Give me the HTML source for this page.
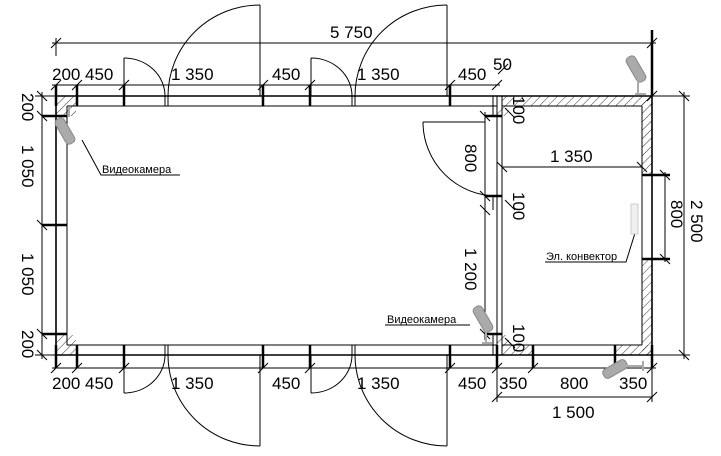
<!DOCTYPE html>
<html><head><meta charset="utf-8"><style>
html,body{margin:0;padding:0;background:#fff;}
svg{display:block;}
text{font-family:"Liberation Sans","DejaVu Sans",sans-serif;fill:#000;}
.d{font-size:17px;}
.l{font-size:11px;}
</style></head><body>
<svg width="721" height="456" viewBox="0 0 721 456" xmlns="http://www.w3.org/2000/svg">
<defs>
<pattern id="h" width="6" height="6" patternUnits="userSpaceOnUse" patternTransform="rotate(45)">
<line x1="0" y1="0" x2="0" y2="6" stroke="#000" stroke-width="0.8"/>
</pattern>
</defs>
<g stroke="#000" fill="none" stroke-width="1">
<!-- hatched areas -->
<rect x="56" y="96" width="20" height="20" fill="url(#h)" stroke="none"/>
<rect x="56" y="335" width="20" height="20" fill="url(#h)" stroke="none"/>
<rect x="502" y="96" width="150" height="10" fill="url(#h)" stroke="none"/>
<rect x="642" y="96" width="10" height="79" fill="url(#h)" stroke="none"/>
<rect x="642" y="259" width="10" height="96" fill="url(#h)" stroke="none"/>
<rect x="502" y="345" width="31" height="10" fill="url(#h)" stroke="none"/>
<rect x="615" y="345" width="37" height="10" fill="url(#h)" stroke="none"/>
<rect x="497" y="106" width="12" height="10" fill="url(#h)" stroke="none"/>
<rect x="497" y="335" width="12" height="10" fill="url(#h)" stroke="none"/>
<!-- walls -->
<line x1="56" y1="96" x2="652" y2="96" stroke-width="1.6"/>
<line x1="67" y1="106" x2="497" y2="106"/>
<line x1="502" y1="106" x2="642" y2="106"/>
<line x1="56" y1="355" x2="652" y2="355" stroke-width="1.6"/>
<line x1="67" y1="345" x2="497" y2="345"/>
<line x1="502" y1="345" x2="642" y2="345"/>
<line x1="56" y1="96" x2="56" y2="355" stroke-width="1.6"/>
<line x1="67" y1="106" x2="67" y2="345"/>
<line x1="652" y1="96" x2="652" y2="355" stroke-width="1.6"/>
<line x1="642" y1="106" x2="642" y2="345"/>
<line x1="497" y1="96" x2="497" y2="355"/>
<line x1="502" y1="96" x2="502" y2="355"/>
<line x1="493" y1="96" x2="493" y2="116"/>
<line x1="493" y1="196" x2="493" y2="210"/>
<line x1="493" y1="335" x2="493" y2="355"/>
<!-- wall ticks -->
<g stroke-width="2.5">
<line x1="56" y1="85" x2="56" y2="106"/><line x1="77" y1="85" x2="77" y2="106"/>
<line x1="124" y1="85" x2="124" y2="106"/><line x1="263" y1="85" x2="263" y2="106"/>
<line x1="310" y1="85" x2="310" y2="106"/><line x1="450" y1="85" x2="450" y2="106"/>
<line x1="56" y1="345" x2="56" y2="368"/><line x1="77" y1="345" x2="77" y2="368"/>
<line x1="124" y1="345" x2="124" y2="368"/><line x1="263" y1="345" x2="263" y2="368"/>
<line x1="310" y1="345" x2="310" y2="368"/><line x1="450" y1="345" x2="450" y2="368"/>
<line x1="497" y1="345" x2="497" y2="368"/><line x1="533" y1="345" x2="533" y2="368"/>
<line x1="615" y1="345" x2="615" y2="368"/><line x1="652" y1="345" x2="652" y2="368"/>
<line x1="42" y1="116" x2="67" y2="116"/><line x1="42" y1="225" x2="67" y2="225"/>
<line x1="42" y1="334" x2="67" y2="334"/>
<line x1="485" y1="116" x2="502" y2="116"/><line x1="485" y1="196" x2="502" y2="196"/>
<line x1="485" y1="334" x2="502" y2="334"/>
<line x1="642" y1="175" x2="670" y2="175"/><line x1="642" y1="259" x2="670" y2="259"/>
<line x1="652" y1="30" x2="652" y2="96"/>
</g>
<!-- dimension lines -->
<line x1="52" y1="43" x2="656" y2="43"/>
<line x1="56" y1="38" x2="56" y2="56"/>
<line x1="52" y1="85" x2="500" y2="85"/>
<line x1="52" y1="368" x2="656" y2="368"/>
<line x1="497" y1="397" x2="652" y2="397"/>
<line x1="497" y1="368" x2="497" y2="402"/>
<line x1="652" y1="368" x2="652" y2="402"/>
<line x1="42" y1="92" x2="42" y2="359"/>
<line x1="35" y1="96" x2="56" y2="96"/><line x1="35" y1="355" x2="56" y2="355"/>
<line x1="485" y1="112" x2="485" y2="340"/>
<line x1="502" y1="167" x2="642" y2="167"/>
<line x1="665" y1="172" x2="665" y2="262"/>
<line x1="684" y1="92" x2="684" y2="359"/>
<line x1="652" y1="96" x2="690" y2="96"/><line x1="652" y1="355" x2="690" y2="355"/>
<!-- slashes -->
<g stroke-width="1">
<path d="M51 48l10-10M51 90l10-10M72 90l10-10M119 90l10-10M258 90l10-10M305 90l10-10M445 90l10-10M492 90l10-10M498 74l10-10M647 48l10-10M647 101l10-10"/>
<path d="M51 373l10-10M72 373l10-10M119 373l10-10M258 373l10-10M305 373l10-10M445 373l10-10M492 373l10-10M528 373l10-10M610 373l10-10M647 373l10-10M492 402l10-10M647 402l10-10"/>
<path d="M37 91l10 10M37 111l10 10M37 220l10 10M37 329l10 10M37 350l10 10"/>
<path d="M480 111l10 10M480 191l10 10M480 205l10 10M480 329l10 10M497 162l10 10M637 162l10 10M660 170l10 10M660 254l10 10M679 91l10 10M679 350l10 10"/>
<path d="M505 108l10 10M505 200l10 10M505 338l10 10"/>
</g>
<!-- doors -->
<line x1="124" y1="58" x2="124" y2="96"/><path d="M124 58A41 38 0 0 1 165 96"/>
<line x1="260" y1="5" x2="260" y2="96"/><path d="M260 5A92 91 0 0 0 168 96"/>
<line x1="311" y1="58" x2="311" y2="96"/><path d="M311 58A41 38 0 0 1 352 96"/>
<line x1="447" y1="5" x2="447" y2="96"/><path d="M447 5A92 91 0 0 0 355 96"/>
<line x1="165" y1="96" x2="165" y2="106"/><line x1="168" y1="96" x2="168" y2="106"/>
<line x1="352" y1="96" x2="352" y2="106"/><line x1="355" y1="96" x2="355" y2="106"/>
<line x1="124" y1="355" x2="124" y2="393"/><path d="M124 393A41 38 0 0 0 165 355"/>
<line x1="260" y1="355" x2="260" y2="446"/><path d="M260 446A92 91 0 0 1 168 355"/>
<line x1="311" y1="355" x2="311" y2="393"/><path d="M311 393A41 38 0 0 0 352 355"/>
<line x1="447" y1="355" x2="447" y2="446"/><path d="M447 446A92 91 0 0 1 355 355"/>
<line x1="165" y1="345" x2="165" y2="355"/><line x1="168" y1="345" x2="168" y2="355"/>
<line x1="352" y1="345" x2="352" y2="355"/><line x1="355" y1="345" x2="355" y2="355"/>
<line x1="423" y1="122" x2="485" y2="122"/><path d="M423 122A74 74 0 0 0 497 196"/>
<!-- leaders -->
<path d="M82 140L101 175H180"/>
<path d="M385 325H470"/>
<path d="M635 233L626 262H545"/>
</g>
<!-- cameras -->
<g fill="#aaa" stroke="#888">
<rect x="60" y="117" width="10" height="28" rx="4" transform="rotate(-30 65 131)"/>
<rect x="478" y="305" width="10" height="28" rx="4" transform="rotate(-30 483 319)"/>
<rect x="631" y="55" width="10" height="28" rx="4" transform="rotate(-30 636 69)"/>
<rect x="610" y="356" width="10" height="26" rx="4" transform="rotate(60 615 369)"/>
</g>
<g stroke="#aaa" stroke-width="2" fill="none">
<path d="M69 107V117M486 328V343M482 343H492M638 75V93M635 94H646M626 366H643M643 361V371"/>
</g>
<rect x="631" y="204" width="7" height="30" fill="#f0f0f0" stroke="#ccc"/>
<!-- labels -->
<text class="l" x="102" y="173">Видеокамера</text>
<text class="l" x="387" y="323">Видеокамера</text>
<text class="l" x="546" y="260">Эл. конвектор</text>
<!-- dims text -->
<text class="d" x="330" y="38">5 750</text>
<text class="d" x="52" y="80">200</text><text class="d" x="85" y="80">450</text>
<text class="d" x="171" y="80">1 350</text><text class="d" x="272" y="80">450</text>
<text class="d" x="357" y="80">1 350</text><text class="d" x="458" y="80">450</text>
<text class="d" x="493" y="70">50</text>
<text class="d" x="52" y="389">200</text><text class="d" x="85" y="389">450</text>
<text class="d" x="171" y="389">1 350</text><text class="d" x="272" y="389">450</text>
<text class="d" x="357" y="389">1 350</text><text class="d" x="458" y="389">450</text>
<text class="d" x="499" y="389">350</text><text class="d" x="560" y="389">800</text>
<text class="d" x="619" y="389">350</text>
<text class="d" x="552" y="418">1 500</text>
<text class="d" x="550" y="162">1 350</text>
<g class="d">
<text class="d" transform="translate(22 93) rotate(90)">200</text>
<text class="d" transform="translate(22 145) rotate(90)">1 050</text>
<text class="d" transform="translate(22 253) rotate(90)">1 050</text>
<text class="d" transform="translate(22 330) rotate(90)">200</text>
<text class="d" transform="translate(465 144) rotate(90)">800</text>
<text class="d" transform="translate(465 248) rotate(90)">1 200</text>
<text class="d" transform="translate(671 200) rotate(90)">800</text>
<text class="d" transform="translate(691 200) rotate(90)">2 500</text>
<text class="d" transform="translate(513 96) rotate(90)">100</text>
<text class="d" transform="translate(513 192) rotate(90)">100</text>
<text class="d" transform="translate(513 324) rotate(90)">100</text>
</g>
</svg>
</body></html>
